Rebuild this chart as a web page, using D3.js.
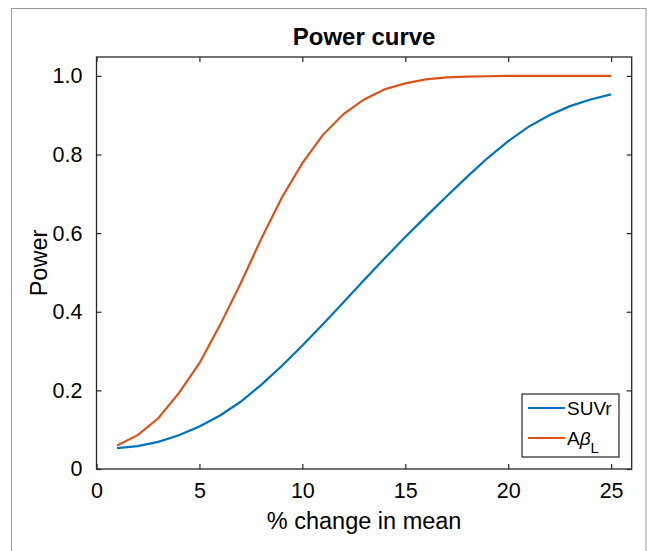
<!DOCTYPE html>
<html>
<head>
<meta charset="utf-8">
<script src="https://cdn.jsdelivr.net/npm/d3@7"></script>
<style>
  body { margin: 0; background: #fff; }
  text { font-family: "Liberation Sans", Arial, sans-serif; fill: #000; }
</style>
</head>
<body>
<script>
// data
var pctChange = [1,2,3,4,5,6,7,8,9,10,11,12,13,14,15,16,17,18,19,20,21,22,23,24,25];
var suvr = [0.053,0.058,0.069,0.086,0.108,0.136,0.171,0.214,0.262,0.314,0.368,0.424,0.481,
            0.536,0.590,0.642,0.693,0.743,0.791,0.834,0.871,0.900,0.923,0.940,0.953];
var abl  = [0.060,0.086,0.129,0.193,0.269,0.366,0.472,0.585,0.690,0.778,0.850,0.903,0.940,
            0.966,0.981,0.991,0.996,0.998,0.999,1.0,1.0,1.0,1.0,1.0,1.0];
var xTicks = [0,5,10,15,20,25];
var yTicks = [0,0.2,0.4,0.6,0.8,1.0];
var seriesNames = ["SUVr", "Aβ_L"];
var seriesColors = ["#0072BD", "#D95319"];

var margin = {top: 57, right: 18.3, bottom: 82, left: 96.5},
    width = 650 - margin.left - margin.right,
    height = 551 - margin.top - margin.bottom;

var svgRoot = d3.select("body").append("svg")
    .attr("width", 650)
    .attr("height", 551);

// figure frame
svgRoot.append("rect")
    .attr("x", 11.5).attr("y", 8.5)
    .attr("width", 634.5).attr("height", 600)
    .attr("fill", "none")
    .attr("stroke", "#9a9a9a")
    .attr("stroke-width", 1);

var svg = svgRoot.append("g")
    .attr("transform", "translate(" + margin.left + "," + margin.top + ")");

var x = d3.scaleLinear().domain([0, 26]).range([0, width]),
    y = d3.scaleLinear().domain([0, 1.048]).range([height, 0]);

var yFmt = function(d) { return d === 0 ? "0" : d3.format(".1f")(d); };

// bottom + top ticks
svg.append("g")
    .attr("class", "axis")
    .attr("transform", "translate(0," + height + ")")
    .call(d3.axisBottom(x).tickValues(xTicks).tickSizeInner(-5).tickSizeOuter(0).tickPadding(14))
    .call(function(g) { g.selectAll("text").style("font-size", "21.5px"); });
svg.append("g")
    .call(d3.axisTop(x).tickValues(xTicks).tickSizeInner(-5).tickSizeOuter(0).tickFormat(""));

// left + right ticks
svg.append("g")
    .attr("class", "axis")
    .call(d3.axisLeft(y).tickValues(yTicks).tickFormat(yFmt).tickSizeInner(-5).tickSizeOuter(0).tickPadding(14))
    .call(function(g) { g.selectAll("text").style("font-size", "21.5px"); });
svg.append("g")
    .attr("transform", "translate(" + width + ",0)")
    .call(d3.axisRight(y).tickValues(yTicks).tickSizeInner(-5).tickSizeOuter(0).tickFormat(""));

svg.selectAll(".domain").remove();
svg.selectAll(".tick line").attr("stroke", "#262626").attr("stroke-width", 1.2);
svg.selectAll(".tick text").attr("fill", "#000").style("font-family", "'Liberation Sans', Arial, sans-serif");

// axes box
svg.append("rect")
    .attr("width", width).attr("height", height)
    .attr("fill", "none")
    .attr("stroke", "#262626")
    .attr("stroke-width", 1.3);

var line = d3.line()
    .x(function(d) { return x(d[0]); })
    .y(function(d) { return y(d[1]); });

var series = [suvr, abl].map(function(vals, i) {
  return {name: seriesNames[i], color: seriesColors[i],
          values: pctChange.map(function(p, j) { return [p, vals[j]]; })};
});

svg.selectAll(".line")
    .data(series)
  .enter().append("path")
    .attr("class", "line")
    .attr("d", function(d) { return line(d.values); })
    .attr("fill", "none")
    .attr("stroke", function(d) { return d.color; })
    .attr("stroke-width", 2.2);

// title and labels
svg.append("text")
    .attr("x", width / 2).attr("y", -12)
    .attr("text-anchor", "middle")
    .style("font-size", "24px").style("font-weight", "bold")
    .text("Power curve");

svg.append("text")
    .attr("x", width / 2).attr("y", height + 60)
    .attr("text-anchor", "middle")
    .style("font-size", "23.5px")
    .text("% change in mean");

svg.append("text")
    .attr("transform", "translate(-50," + (height / 2) + ") rotate(-90)")
    .attr("text-anchor", "middle")
    .style("font-size", "23.5px")
    .text("Power");

// legend
var lg = svg.append("g")
    .attr("transform", "translate(" + (522 - margin.left) + "," + (394 - margin.top) + ")");
lg.append("rect")
    .attr("width", 97).attr("height", 63)
    .attr("fill", "#fff")
    .attr("stroke", "#262626")
    .attr("stroke-width", 1.2);

var item = lg.selectAll(".item")
    .data(series)
  .enter().append("g")
    .attr("transform", function(d, i) { return "translate(0," + (14 + i * 30) + ")"; });
item.append("line")
    .attr("x1", 6).attr("x2", 43)
    .attr("stroke", function(d) { return d.color; })
    .attr("stroke-width", 2.2);
item.each(function(d) {
  var t = d3.select(this).append("text")
      .attr("x", 45).attr("y", 7)
      .style("font-size", "19px");
  if (d.name === "SUVr") {
    t.text("SUVr");
  } else {
    t.append("tspan").text("A");
    t.append("tspan").style("font-style", "italic").text("β");
    t.append("tspan").attr("dy", 8).style("font-size", "15px").text("L");
  }
});
</script>
</body>
</html>
